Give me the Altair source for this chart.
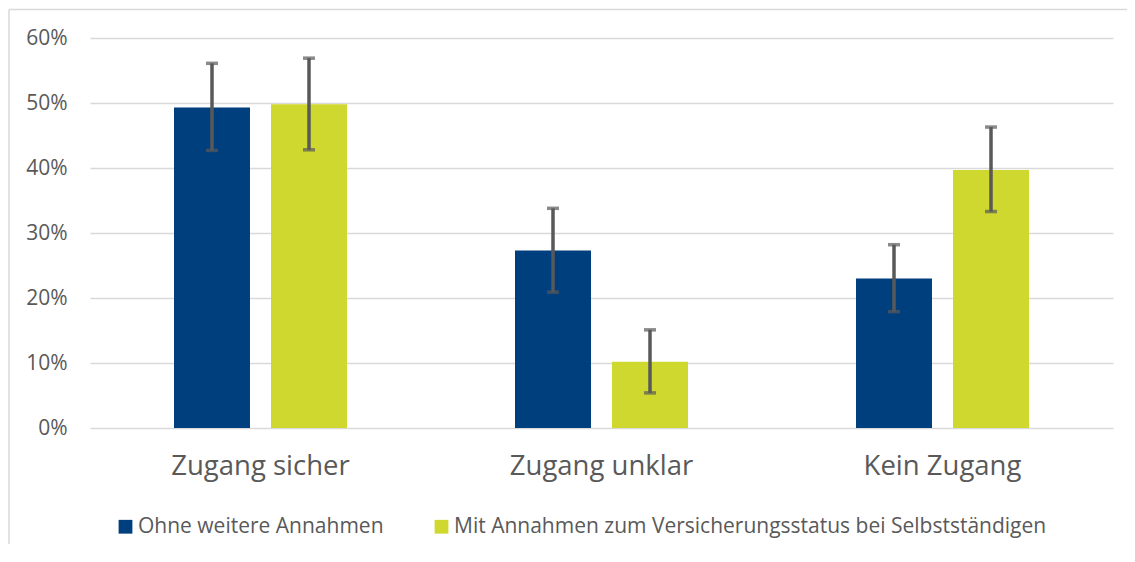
import altair as alt
import pandas as pd

categories = ["Zugang sicher", "Zugang unklar", "Kein Zugang"]
series = ["Ohne weitere Annahmen", "Mit Annahmen zum Versicherungsstatus bei Selbstständigen"]
colors = ["#003F7D", "#CFD82F"]

ohne = [0.493, 0.273, 0.230]
ohne_lo = [0.427, 0.209, 0.179]
ohne_hi = [0.561, 0.338, 0.282]

mit = [0.498, 0.102, 0.397]
mit_lo = [0.428, 0.054, 0.333]
mit_hi = [0.569, 0.151, 0.463]

rows = []
for i, c in enumerate(categories):
    rows.append({"cat": c, "series": series[0], "v": ohne[i], "lo": ohne_lo[i], "hi": ohne_hi[i]})
    rows.append({"cat": c, "series": series[1], "v": mit[i], "lo": mit_lo[i], "hi": mit_hi[i]})
df = pd.DataFrame(rows)

TXT = "#595959"
FONT = "Open Sans"

x = alt.X("cat:N", sort=categories, title=None,
          scale=alt.Scale(paddingInner=0, paddingOuter=0),
          axis=alt.Axis(labelAngle=0, labelFontSize=27.5, labelColor=TXT, labelFont=FONT,
                        labelPadding=24, labelLimit=0, domain=False, ticks=False))
xo = alt.XOffset("series:N", sort=series,
                 scale=alt.Scale(paddingInner=0.2165, paddingOuter=0.866))

bars = alt.Chart(df).mark_bar().encode(
    x=x, xOffset=xo,
    y=alt.Y("v:Q", title=None,
            scale=alt.Scale(domain=[0, 0.6]),
            axis=alt.Axis(values=[0, 0.1, 0.2, 0.3, 0.4, 0.5, 0.6], format=".0%",
                          labelFontSize=21, labelColor=TXT, labelFont=FONT, labelPadding=23,
                          domain=False, ticks=False, gridColor="#D9D9D9", gridWidth=1.4)),
    color=alt.Color("series:N", sort=series,
                    scale=alt.Scale(domain=series, range=colors),
                    legend=alt.Legend(title=None, orient="none", legendX=25, legendY=478,
                                      direction="horizontal", symbolType="square",
                                      symbolSize=190, symbolStrokeWidth=0, symbolOpacity=1,
                                      labelFontSize=21, labelColor=TXT, labelFont=FONT,
                                      labelLimit=0, labelOffset=2, columnPadding=47, padding=0)),
)

err = alt.Chart(df).mark_rule(color="#595959", strokeWidth=3.5).encode(
    x=x, xOffset=xo, y="lo:Q", y2="hi:Q")
cap_hi = alt.Chart(df).mark_tick(color="#595959", size=12, thickness=3.5, orient="horizontal").encode(
    x=x, xOffset=xo, y="hi:Q")
cap_lo = alt.Chart(df).mark_tick(color="#595959", size=12, thickness=3.5, orient="horizontal").encode(
    x=x, xOffset=xo, y="lo:Q")

frame_df = pd.DataFrame({"a": [0]})
frame_top = alt.Chart(frame_df).mark_rule(color="#D9D9D9", strokeWidth=1.5).encode(
    x=alt.value(-81), x2=alt.value(1045), y=alt.value(-28.5))
frame_left = alt.Chart(frame_df).mark_rule(color="#D9D9D9", strokeWidth=1.5).encode(
    x=alt.value(-81), y=alt.value(-28.5), y2=alt.value(530))

chart = alt.layer(bars, err, cap_hi, cap_lo, frame_top, frame_left).properties(
    width=1023, height=390,
    autosize=alt.AutoSizeParams(type="none"),
    padding={"left": 82, "top": 30, "right": 14, "bottom": 116},
).configure(font=FONT).configure_view(strokeWidth=0, stroke="transparent")

chart.save("out.html", embed_options={"renderer": "svg", "actions": False})
